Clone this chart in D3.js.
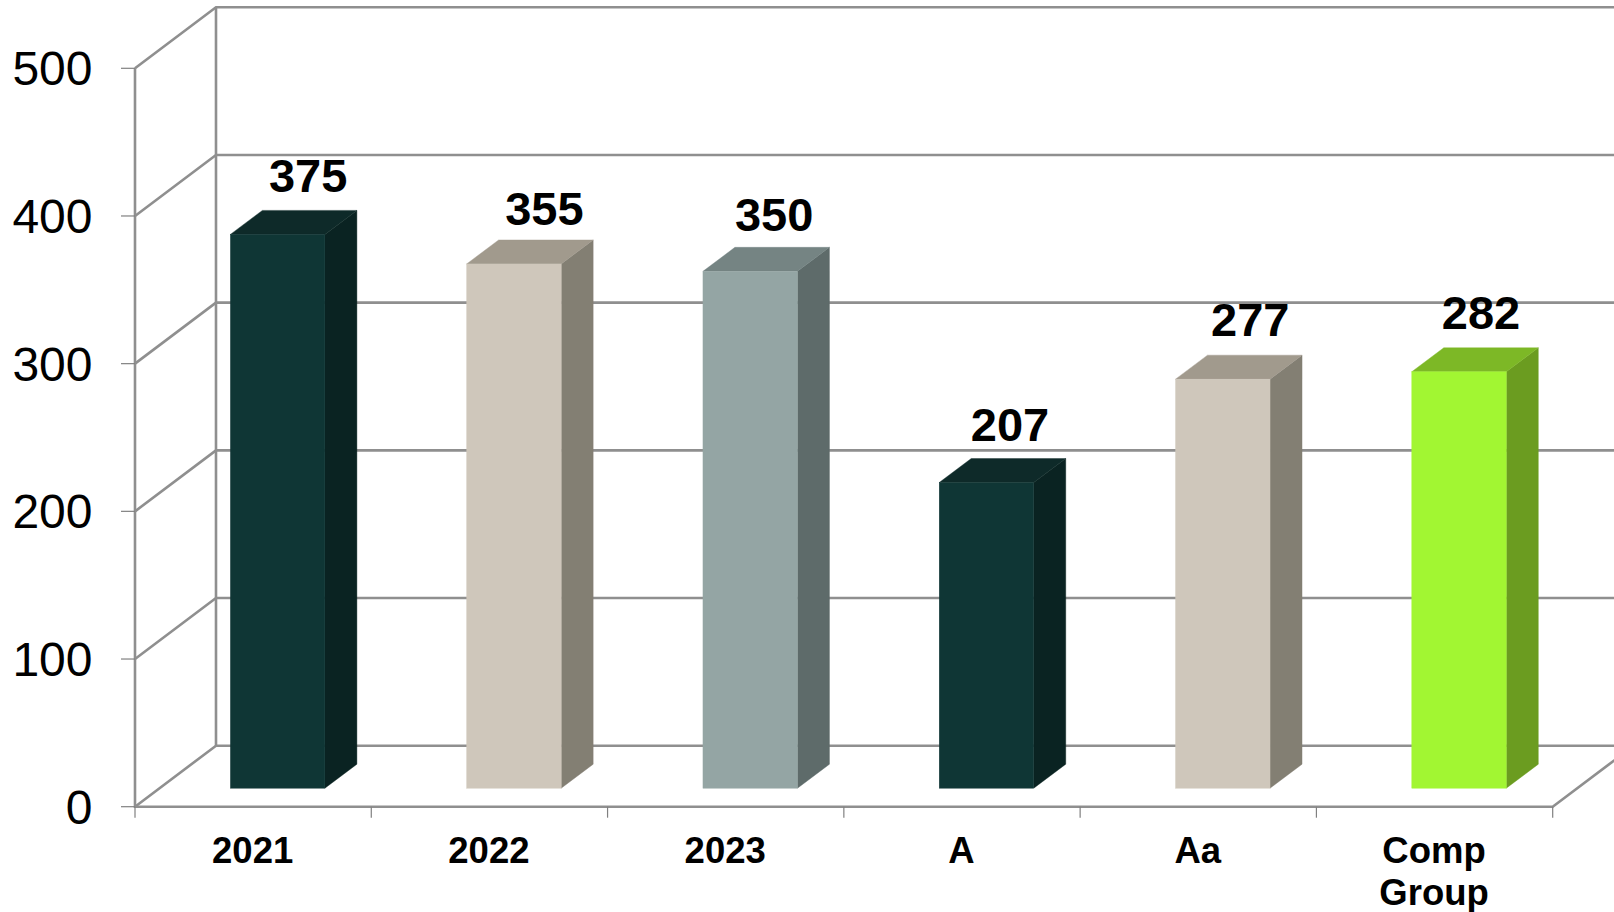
<!DOCTYPE html>
<html>
<head>
<meta charset="utf-8">
<script src="https://cdn.jsdelivr.net/npm/d3@7"></script>
<style>
html,body{margin:0;padding:0;background:#fff;overflow:hidden}
svg{display:block}
text{font-family:"Liberation Sans",Arial,sans-serif;fill:#000}
</style>
</head>
<body>
<svg id="chart" width="1614" height="912"></svg>
<script>
const categories = ["2021","2022","2023","A","Aa","Comp Group"];
const values = [375,355,350,207,277,282];
const yTicks = [0,100,200,300,400,500];
const frontColors = ["#0f3635","#cfc7bb","#94a5a4","#0f3635","#cfc7bb","#a2f632"];
const sideColors = ["#0a2322","#837f73","#5e6b6a","#0a2322","#837f73","#6b9c20"];
const topColors = ["#0e2a29","#a19a8d","#758483","#0e2a29","#a19a8d","#7db826"];
const labelNudgesX = [0,0,-6.5,-7,-3,-8.5];
const labelNudgesY = [-1,3,1,0,-1.5,-1.5];

const W=1614,H=912;
const depth={dx:81,dy:61}, barDepth={dx:32,dy:24};
const inset={dx:(depth.dx-barDepth.dx)/2,dy:(depth.dy-barDepth.dy)/2};
const x=d3.scaleBand().domain(categories).range([135,1552.7]).paddingInner(0.6).paddingOuter(0.3);
const y=d3.scaleLinear().domain([0,500]).range([806.7,68.3]);
const svg=d3.select("#chart");
const gridC="#8f8f8f";

const grid=svg.append("g").attr("fill","none").attr("stroke",gridC).attr("stroke-width",2.6);
const wallLine=d3.line();
yTicks.forEach(t=>{
  grid.append("path").attr("d",wallLine([
    [135,y(t)],[135+depth.dx,y(t)-depth.dy],[1552.7+depth.dx,y(t)-depth.dy]
  ]));
});
grid.append("path").attr("d",wallLine([[135+depth.dx,y(500)-depth.dy],[135+depth.dx,y(0)-depth.dy]]));
grid.append("path").attr("d",wallLine([[135,y(500)],[135,y(0)],[1552.7,y(0)],[1552.7+depth.dx,y(0)-depth.dy]]));

const ticks=svg.append("g").attr("stroke","#808080").attr("stroke-width",1.2);
yTicks.forEach(t=>ticks.append("line").attr("x1",121).attr("x2",135).attr("y1",y(t)).attr("y2",y(t)));
const step=x.step();
d3.range(7).forEach(i=>ticks.append("line").attr("x1",135+i*step).attr("x2",135+i*step).attr("y1",y(0)).attr("y2",y(0)+11));

svg.append("g").selectAll("text").data(yTicks).join("text")
  .attr("x",92.5).attr("y",d=>y(d)+17).attr("text-anchor","end")
  .attr("font-size",48).text(d=>d);

const bars=svg.append("g").selectAll("g").data(categories).join("g");
bars.each(function(c,i){
  const g=d3.select(this);
  const x0=x(c)+inset.dx, x1=x0+x.bandwidth();
  const yb=y(0)-inset.dy, yt=y(values[i])-inset.dy;
  const d=barDepth;
  g.append("path").attr("fill",sideColors[i]).attr("stroke",sideColors[i]).attr("stroke-width",0.4).attr("d",wallLine([[x1,yt],[x1+d.dx,yt-d.dy],[x1+d.dx,yb-d.dy],[x1,yb]])+"Z");
  g.append("path").attr("fill",topColors[i]).attr("stroke",topColors[i]).attr("stroke-width",0.4).attr("d",wallLine([[x0,yt],[x0+d.dx,yt-d.dy],[x1+d.dx,yt-d.dy],[x1,yt]])+"Z");
  g.append("rect").attr("fill",frontColors[i]).attr("stroke",frontColors[i]).attr("stroke-width",0.4).attr("x",x0).attr("y",yt).attr("width",x1-x0).attr("height",yb-yt);
  g.append("text").attr("x",(x0+x1)/2+30.5+labelNudgesX[i]).attr("y",yt-d.dy-17.5+labelNudgesY[i])
    .attr("text-anchor","middle").attr("font-size",47).attr("font-weight","bold").text(values[i]);
});

const xl=svg.append("g").selectAll("text").data(categories).join("text")
  .attr("text-anchor","middle").attr("font-size",36.5).attr("font-weight","bold");
xl.each(function(c){
  const t=d3.select(this), cx=x(c)+x.bandwidth()/2-0.5;
  c.split(" ").forEach((w,i)=>t.append("tspan").attr("x",cx).attr("y",862.5+i*42).text(w));
});
</script>
</body>
</html>
